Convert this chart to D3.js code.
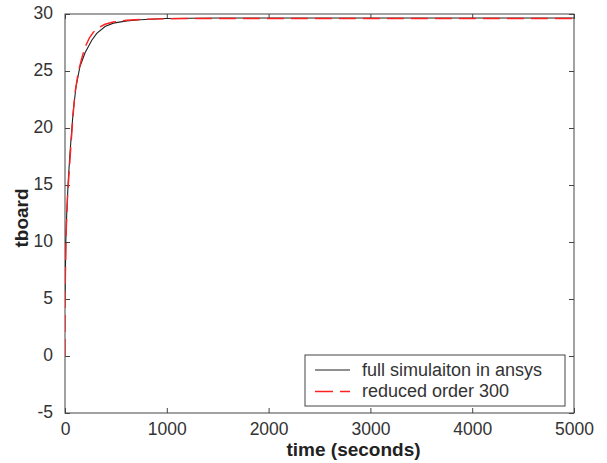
<!DOCTYPE html>
<html>
<head>
<meta charset="utf-8">
<script src="https://cdn.jsdelivr.net/npm/d3@7"></script>
<style>
body { margin: 0; background: #fff; }
svg text { font-family: "Liberation Sans", Arial, Helvetica, sans-serif; }
</style>
</head>
<body>
<div id="chart"></div>
<script>
// values
const fullTime = [0, 8, 17, 32, 49, 66, 82, 108, 147, 197, 263, 312, 393, 475, 607, 737, 983, 1500, 5000];
const fullTemp = [4.9, 10, 12.5, 15.4, 17.8, 19.8, 21.6, 23.6, 25.4, 26.6, 27.7, 28.3, 28.9, 29.2, 29.4, 29.5, 29.6, 29.65, 29.65];

const reducedTime = [0, 2, 10, 25, 42, 60, 76, 98, 130, 164, 197, 240, 278, 330, 393, 475, 607, 800, 1200, 5000];
const reducedTemp = [0, 5.8, 10.5, 14, 16.3, 18.7, 20.7, 23.1, 24.9, 26.1, 27.1, 27.9, 28.4, 28.8, 29.1, 29.3, 29.45, 29.55, 29.6, 29.6];

const xTicks = [0, 1000, 2000, 3000, 4000, 5000];
const yTicks = [-5, 0, 5, 10, 15, 20, 25, 30];
const legendLabels = ["full simulaiton in ansys", "reduced order 300"];

const width = 607, height = 463;
const margin = { top: 14, right: 33, bottom: 50, left: 65 };
const w = width - margin.left - margin.right;
const h = height - margin.top - margin.bottom;
const axisColor = "#444";
const plain = d => String(d);

const svg = d3.select("#chart").append("svg")
    .attr("width", width)
    .attr("height", height);

const g = svg.append("g")
    .attr("transform", `translate(${margin.left},${margin.top})`);

const x = d3.scaleLinear().domain([0, 5000]).range([0, w]);
const y = d3.scaleLinear().domain([-5, 30]).range([h, 0]);

svg.append("defs").append("clipPath").attr("id", "plot")
  .append("rect").attr("width", w).attr("height", h);

// axes, ticks pointing inwards on all four sides
function styleAxis(sel) {
    sel.select(".domain").remove();
    sel.selectAll(".tick line").attr("stroke", axisColor);
    sel.selectAll(".tick text").attr("fill", "#333").attr("font-size", 17.5);
}

g.append("g")
    .attr("transform", `translate(0,${h})`)
    .call(d3.axisBottom(x).tickValues(xTicks).tickFormat(plain).tickSizeInner(-5).tickSizeOuter(0).tickPadding(10))
    .call(styleAxis);

g.append("g")
    .call(d3.axisTop(x).tickValues(xTicks).tickSizeInner(-5).tickSizeOuter(0).tickFormat(""))
    .call(styleAxis);

g.append("g")
    .call(d3.axisLeft(y).tickValues(yTicks).tickFormat(plain).tickSizeInner(-5).tickSizeOuter(0).tickPadding(12))
    .call(styleAxis)
    .selectAll(".tick text").attr("dy", "0.25em");

g.append("g")
    .attr("transform", `translate(${w},0)`)
    .call(d3.axisRight(y).tickValues(yTicks).tickSizeInner(-5).tickSizeOuter(0).tickFormat(""))
    .call(styleAxis);

g.append("rect")
    .attr("width", w)
    .attr("height", h)
    .attr("fill", "none")
    .attr("stroke", axisColor)
    .attr("stroke-width", 1);

// curves
const line = d3.line()
    .x(d => x(d[0]))
    .y(d => y(d[1]));

const lines = g.append("g").attr("clip-path", "url(#plot)");

lines.append("path")
    .datum(d3.zip(fullTime, fullTemp))
    .attr("fill", "none")
    .attr("stroke", "#222")
    .attr("stroke-width", 1.1)
    .attr("d", line);

lines.append("path")
    .datum(d3.zip(reducedTime, reducedTemp))
    .attr("fill", "none")
    .attr("stroke", "#ff2020")
    .attr("stroke-width", 1.4)
    .attr("stroke-dasharray", "17,7")
    .attr("d", line);

// axis labels
svg.append("text")
    .attr("x", margin.left + w / 2 + 34)
    .attr("y", 456)
    .attr("text-anchor", "middle")
    .attr("font-size", 19)
    .attr("font-weight", "bold")
    .attr("fill", "#222")
    .text("time (seconds)");

svg.append("text")
    .attr("transform", "translate(28,218) rotate(-90)")
    .attr("text-anchor", "middle")
    .attr("font-size", 19)
    .attr("font-weight", "bold")
    .attr("fill", "#222")
    .text("tboard");

// legend
const legend = svg.append("g").attr("transform", "translate(305,355)");

legend.append("rect")
    .attr("width", 260)
    .attr("height", 51)
    .attr("fill", "#fff")
    .attr("stroke", axisColor);

const legendStyles = [
    { stroke: "#222", dash: null, width: 1.1 },
    { stroke: "#ff2020", dash: "18,7", width: 1.4 }
];

legendLabels.forEach((label, i) => {
    const yy = 15 + i * 21.5;
    legend.append("line")
        .attr("x1", 10).attr("x2", 45)
        .attr("y1", yy).attr("y2", yy)
        .attr("stroke", legendStyles[i].stroke)
        .attr("stroke-width", legendStyles[i].width)
        .attr("stroke-dasharray", legendStyles[i].dash);
    legend.append("text")
        .attr("x", 57)
        .attr("y", yy + 5.5)
        .attr("font-size", 18)
        .attr("fill", "#333")
        .text(label);
});
</script>
</body>
</html>
